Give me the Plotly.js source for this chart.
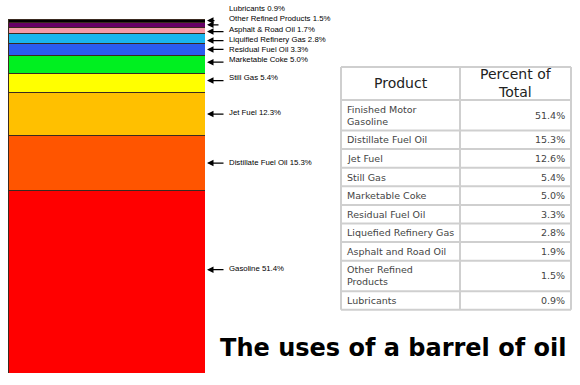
<!DOCTYPE html>
<html>
<head>
<meta charset="utf-8">
<script src="https://cdn.plot.ly/plotly-3.0.1.min.js"></script>
<style>html,body{margin:0;padding:0;background:#fff;}#chart{width:580px;height:385px;}</style>
</head>
<body>
<div id="chart"></div>
<script>
// ---- data (bottom of barrel to top) ----
const barProducts = ['Gasoline', 'Distillate Fuel Oil', 'Jet Fuel', 'Still Gas', 'Marketable Coke',
  'Residual Fuel Oil', 'Liquified Refinery Gas', 'Asphalt & Road Oil', 'Other Refined Products', 'Lubricants'];
const barPercents = [51.4, 15.3, 12.3, 5.4, 5.0, 3.3, 2.8, 1.7, 1.5, 0.9];

const tableProducts = ['Finished Motor Gasoline', 'Distillate Fuel Oil', 'Jet Fuel', 'Still Gas', 'Marketable Coke',
  'Residual Fuel Oil', 'Liquefied Refinery Gas', 'Asphalt and Road Oil', 'Other Refined Products', 'Lubricants'];
const tablePercents = [51.4, 15.3, 12.6, 5.4, 5.0, 3.3, 2.8, 1.9, 1.5, 0.9];
const tableHeaders = ['Product', 'Percent of Total'];
const chartTitle = 'The uses of a barrel of oil';

// ---- styling / layout ----
const segColors = ['#ff0000', '#ff5500', '#ffc000', '#ffff00', '#00f020',
  '#2a5cf0', '#19b5ee', '#f59aa8', '#660066', '#000000'];
// per-label pixel offsets
const arrowShift = [12, 0, 0, 2, 2, 0, -2, -1, 0, 0];
const textShift  = [1, 1, 2, 3, 3, 0, 1, 2, 6, 12];
const arrowLen   = [20, 20, 20, 20, 20, 20, 20, 20, 15, 11];
const wrapNames = ['Finished Motor Gasoline', 'Other Refined Products', 'Percent of Total'];
function wrap(s) {
  if (wrapNames.indexOf(s) < 0) return s;
  const i = s.lastIndexOf(' ');
  return s.slice(0, i) + '<br>' + s.slice(i + 1);
}

const W = 580, H = 385, M = {l: 8, r: 8, t: 19, b: 12};
const PW = W - M.l - M.r, PH = H - M.t - M.b;
const px = x => (x - M.l) / PW;          // pixel -> paper x
const py = y => (H - M.b - y) / PH;      // pixel -> paper y

const total = barPercents.reduce((a, b) => a + b, 0);
const traces = barProducts.map((p, i) => ({
  type: 'bar', x: [0], y: [barPercents[i]], width: 1, name: p,
  marker: {color: segColors[i], line: {color: '#3a2a20', width: 1}},
  hoverinfo: 'skip', showlegend: false
}));

const annotations = [];
const shapes = [];
let cum = 0;
barPercents.forEach((v, i) => {
  const mid = cum + v / 2;
  cum += v;
  annotations.push({
    xref: 'x', yref: 'y', x: 0.5, y: mid, yshift: arrowShift[i],
    text: '', showarrow: true, arrowhead: 2, arrowsize: 1, arrowwidth: 1.3,
    arrowcolor: '#000', ax: arrowLen[i], ay: 0, standoff: 2
  });
  annotations.push({
    xref: 'x', yref: 'y', x: 0.5, y: mid, xshift: 22, yshift: arrowShift[i] + textShift[i],
    xanchor: 'left', yanchor: 'middle', showarrow: false,
    text: barProducts[i] + ' ' + v.toFixed(1) + '%',
    font: {family: 'Liberation Sans Narrow, Arial Narrow, Liberation Sans, Arial, sans-serif', size: 7.8, color: '#000'}
  });
  if (textShift[i] > 5) {
    const tx = arrowLen[i] + 2;
    shapes.push({
      type: 'path', xref: 'x', yref: 'y', xsizemode: 'pixel', ysizemode: 'pixel',
      xanchor: 0.5, yanchor: mid,
      path: 'M' + tx + ',' + arrowShift[i] + ' L' + tx + ',' + (arrowShift[i] + textShift[i]) +
            ' L24,' + (arrowShift[i] + textShift[i]),
      line: {color: '#000', width: 1.3}
    });
  }
});

// ---- table (drawn as grid shapes + text annotations) ----
const tbl = {left: 341, split: 460, right: 571, top: 67, header: 33, row1: 18.6, row2: 30.5, pad: 4};
const gridLine = {color: '#cfcfcf', width: 2};
const cellFont = {family: 'Verdana, DejaVu Sans, sans-serif', size: 9.5, color: '#444'};
const headFont = {family: 'Verdana, DejaVu Sans, sans-serif', size: 14, color: '#222'};
const rowEdges = [tbl.top, tbl.top + tbl.header];
tableProducts.forEach(p => {
  const h = wrap(p).indexOf('<br>') >= 0 ? tbl.row2 : tbl.row1;
  rowEdges.push(rowEdges[rowEdges.length - 1] + h);
});
const tblBottom = rowEdges[rowEdges.length - 1];
rowEdges.forEach(y => shapes.push({type: 'line', xref: 'paper', yref: 'paper',
  x0: px(tbl.left), x1: px(tbl.right), y0: py(y), y1: py(y), line: gridLine}));
[tbl.left, tbl.split, tbl.right].forEach(x => shapes.push({type: 'line', xref: 'paper', yref: 'paper',
  x0: px(x), x1: px(x), y0: py(tbl.top), y1: py(tblBottom), line: gridLine}));

const headMid = py(tbl.top + tbl.header / 2);
annotations.push({xref: 'paper', yref: 'paper', x: px((tbl.left + tbl.split) / 2), y: headMid,
  xanchor: 'center', yanchor: 'middle', showarrow: false, text: wrap(tableHeaders[0]), font: headFont});
annotations.push({xref: 'paper', yref: 'paper', x: px((tbl.split + tbl.right) / 2), y: headMid,
  xanchor: 'center', yanchor: 'middle', showarrow: false, align: 'center',
  text: wrap(tableHeaders[1]), font: headFont});
tableProducts.forEach((p, i) => {
  const mid = py((rowEdges[i + 1] + rowEdges[i + 2]) / 2);
  annotations.push({xref: 'paper', yref: 'paper', x: px(tbl.left + tbl.pad), y: mid,
    xanchor: 'left', yanchor: 'middle', align: 'left', showarrow: false, text: wrap(p), font: cellFont});
  annotations.push({xref: 'paper', yref: 'paper', x: px(tbl.right - tbl.pad), y: mid,
    xanchor: 'right', yanchor: 'middle', align: 'right', showarrow: false,
    text: tablePercents[i].toFixed(1) + '%', font: cellFont});
});

const layout = {
  width: W, height: H,
  margin: M,
  paper_bgcolor: '#fff', plot_bgcolor: 'rgba(0,0,0,0)',
  barmode: 'stack', bargap: 0,
  xaxis: {domain: [0, 197 / PW], range: [-0.5, 0.5], visible: false, fixedrange: true},
  yaxis: {range: [0, total], visible: false, fixedrange: true},
  title: {
    text: '<b>' + chartTitle + '</b>', x: 0.678, xanchor: 'center', y: 0.097, yanchor: 'middle',
    font: {family: 'Verdana, DejaVu Sans, sans-serif', size: 24, color: '#000'}
  },
  annotations: annotations, shapes: shapes, showlegend: false
};

Plotly.newPlot('chart', traces, layout, {displayModeBar: false, staticPlot: true});
</script>
</body>
</html>
